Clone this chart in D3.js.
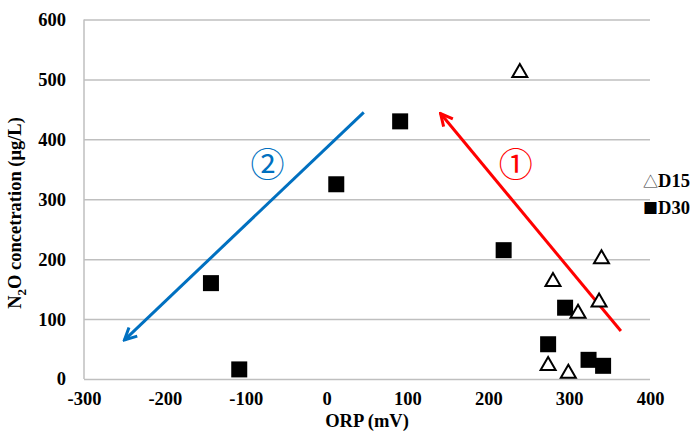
<!DOCTYPE html>
<html>
<head>
<meta charset="utf-8">
<script src="https://cdn.jsdelivr.net/npm/d3@7"></script>
<style>
  body { margin: 0; background: #fff; }
  svg text { font-family: "Liberation Serif", "Times New Roman", serif; font-weight: bold; }
</style>
</head>
<body>
<svg id="chart" width="699" height="432"></svg>
<script>
// data: ORP (mV) vs N2O (ug/L)
var d15X = [239, 340, 280, 337, 311, 274, 299]
var d15Y = [515, 204, 166, 132, 113, 26, 13]
var d30X = [-143, -108, 12, 91, 219, 295, 274, 324, 342]
var d30Y = [160, 16, 325, 430, 215, 119, 58, 32, 22]

var xTicks = [-300, -200, -100, 0, 100, 200, 300, 400]
var yTicks = [0, 100, 200, 300, 400, 500, 600]

// hand drawn arrows (data units)
var arrowFrom = [[364, 80], [46, 445]]
var arrowTo = [[141, 443], [-250, 65]]
var arrowColor = ["#ff0000", "#0070c0"]
var arrowLabel = ["\u2460", "\u2461"]
var labelAt = [[234, 361], [-73, 361]]

var svg = d3.select("#chart")

var x = d3.scaleLinear().domain([-300, 400]).range([84, 650])
var y = d3.scaleLinear().domain([0, 600]).range([379, 19.5])

var fmt = d => String(d).replace("\u2212", "-")

function serifTicks(g) {
  g.select(".domain").remove()
  g.attr("font-family", "Liberation Serif").attr("font-size", 18.5).attr("font-weight", "bold")
  g.selectAll("text").attr("fill", "#000")
    .style("font-family", "'Liberation Serif', serif")
    .style("font-size", "18.5px")
    .style("font-weight", "bold")
}

// gridlines
svg.append("g")
  .attr("transform", "translate(84,0)")
  .call(d3.axisLeft(y).tickValues(yTicks).tickSize(-566).tickFormat(""))
  .call(g => g.select(".domain").remove())
  .call(g => g.selectAll(".tick line").attr("stroke", "#bfbfbf").attr("stroke-width", 1.5))

// left axis line
svg.append("line")
  .attr("x1", x(-300)).attr("x2", x(-300))
  .attr("y1", y(600)).attr("y2", y(0))
  .attr("stroke", "#bfbfbf").attr("stroke-width", 1.5)

// tick labels
svg.append("g")
  .attr("transform", "translate(0,379)")
  .call(d3.axisBottom(x).tickValues(xTicks).tickSize(0).tickPadding(13).tickFormat(fmt))
  .call(serifTicks)

svg.append("g")
  .attr("transform", "translate(84,0)")
  .call(d3.axisLeft(y).tickValues(yTicks).tickSize(0).tickPadding(18).tickFormat(fmt))
  .call(serifTicks)

// axis titles
svg.append("text").attr("x", 367).attr("y", 427).attr("text-anchor", "middle")
  .style("font-size", "18.5px").text("ORP (mV)")

var yt = svg.append("text")
  .attr("transform", "translate(21,213) rotate(-90)")
  .attr("text-anchor", "middle")
  .style("font-size", "18.5px")
yt.append("tspan").text("N")
yt.append("tspan").attr("dy", 5).style("font-size", "13px").text("2")
yt.append("tspan").attr("dy", -5).text("O concetration (\u03bcg/L)")

// arrows
var defs = svg.append("defs")
arrowColor.forEach(function(c, i) {
  defs.append("marker")
    .attr("id", "head" + i)
    .attr("viewBox", "0 0 16 16")
    .attr("refX", 14).attr("refY", 8)
    .attr("markerWidth", 16).attr("markerHeight", 16)
    .attr("markerUnits", "userSpaceOnUse")
    .attr("orient", "auto")
    .append("path")
    .attr("d", "M2,2 L14,8 L2,14")
    .attr("fill", "none").attr("stroke", c).attr("stroke-width", 3)
})

svg.selectAll(".arrow")
  .data(arrowFrom)
  .enter()
  .append("line")
  .attr("class", "arrow")
  .attr("x1", d => x(d[0])).attr("y1", d => y(d[1]))
  .attr("x2", (d, i) => x(arrowTo[i][0])).attr("y2", (d, i) => y(arrowTo[i][1]))
  .attr("stroke", (d, i) => arrowColor[i])
  .attr("stroke-width", 3)
  .attr("marker-end", (d, i) => "url(#head" + i + ")")

svg.selectAll(".num")
  .data(labelAt)
  .enter()
  .append("text")
  .attr("class", "num")
  .attr("x", d => x(d[0])).attr("y", d => y(d[1]))
  .attr("text-anchor", "middle").attr("dominant-baseline", "central")
  .style("font-family", "'Noto Sans CJK JP', sans-serif")
  .style("font-weight", "normal")
  .style("font-size", "34px")
  .attr("fill", (d, i) => arrowColor[i])
  .text((d, i) => arrowLabel[i])

// D30 squares
svg.selectAll(".sq")
  .data(d30X)
  .enter()
  .append("rect")
  .attr("class", "sq")
  .attr("x", d => x(d) - 8)
  .attr("y", (d, i) => y(d30Y[i]) - 8)
  .attr("width", 16).attr("height", 16)
  .attr("fill", "#000")

// D15 open triangles
svg.selectAll(".tri")
  .data(d15X)
  .enter()
  .append("path")
  .attr("class", "tri")
  .attr("transform", (d, i) => "translate(" + x(d) + "," + y(d15Y[i]) + ")")
  .attr("d", "M0,-6.5 L7.5,6.5 L-7.5,6.5 Z")
  .attr("fill", "#fff").attr("stroke", "#000").attr("stroke-width", 2)

// legend (cut by the right edge like the original)
var l1 = svg.append("text").attr("x", 643).attr("y", 187).style("font-size", "18.5px")
l1.append("tspan").style("font-family", "'Noto Sans CJK JP', sans-serif").style("font-weight", "normal")
  .style("font-size", "15px").attr("fill", "#333").text("\u25b3")
l1.append("tspan").text("D15")
var l2 = svg.append("text").attr("x", 643).attr("y", 214).style("font-size", "18.5px")
l2.append("tspan").style("font-family", "'Noto Sans CJK JP', sans-serif").style("font-weight", "normal")
  .style("font-size", "15px").text("\u25a0")
l2.append("tspan").text("D30")
</script>
</body>
</html>
